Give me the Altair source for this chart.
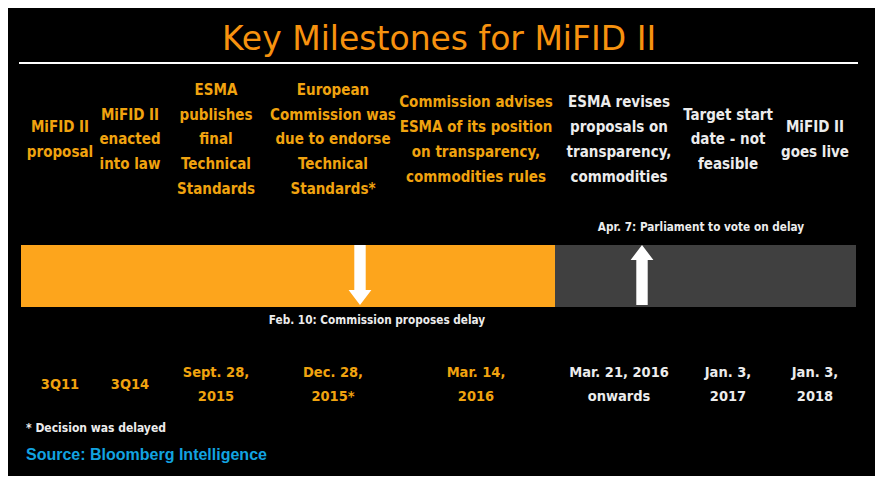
import altair as alt
import pandas as pd

# ---------------- data ----------------
title = "Key Milestones for MiFID II"
milestones = [
    ["MiFID II", "proposal"],
    ["MiFID II", "enacted", "into law"],
    ["ESMA", "publishes", "final", "Technical", "Standards"],
    ["European", "Commission was", "due to endorse", "Technical", "Standards*"],
    ["Commission advises", "ESMA of its position", "on transparency,", "commodities rules"],
    ["ESMA revises", "proposals on", "transparency,", "commodities"],
    ["Target start", "date - not", "feasible"],
    ["MiFID II", "goes live"],
]
dates = [
    ["3Q11"], ["3Q14"], ["Sept. 28,", "2015"], ["Dec. 28,", "2015*"],
    ["Mar. 14,", "2016"], ["Mar. 21, 2016", "onwards"], ["Jan. 3,", "2017"], ["Jan. 3,", "2018"],
]
status = ["past", "past", "past", "past", "past", "future", "future", "future"]
phases = ["past", "future"]
events = ["Feb. 10: Commission proposes delay", "Apr. 7: Parliament to vote on delay"]
event_dir = ["down", "up"]
footnote = "* Decision was delayed"
source = "Source: Bloomberg Intelligence"

# ---------------- layout (page pixels) ----------------
col_x = [60, 130, 216, 333, 476, 619, 728, 815]
top_center, top_lh = 139.5, 24.8
date_center, date_lh = 385, 24
phase_x = [(21, 555), (555, 856)]
bar_y = (245, 307)
arrow_x = [360, 642]
event_pos = [(377, 320), (701, 227)]

ORANGE_TXT = "#F0A30F"
WHITE_TXT = "#ECECEC"
colors = {"past": ORANGE_TXT, "future": WHITE_TXT}
bar_colors = {"past": "#FDA51C", "future": "#404040"}
COND = "DejaVu Sans Condensed, sans-serif"

xs = alt.Scale(domain=[8, 875], nice=False, zero=False)
ys = alt.Scale(domain=[476, 8], nice=False, zero=False)
X = lambda f="x": alt.X(f"{f}:Q", scale=xs, axis=None)
Y = lambda f="y": alt.Y(f"{f}:Q", scale=ys, axis=None)

top_df = pd.DataFrame({
    "x": col_x,
    "y": [top_center - (len(m) - 1) / 2 * top_lh for m in milestones],
    "label": milestones,
    "color": [colors[s] for s in status],
})
date_df = pd.DataFrame({
    "x": col_x,
    "y": [date_center - (len(d) - 1) / 2 * date_lh for d in dates],
    "label": dates,
    "color": [colors[s] for s in status],
})
bar_df = pd.DataFrame({
    "x": [p[0] for p in phase_x], "x2": [p[1] for p in phase_x],
    "y": [bar_y[0]] * 2, "y2": [bar_y[1]] * 2,
    "color": [bar_colors[p] for p in phases],
})
arrow_df = pd.DataFrame({
    "x": arrow_x, "y": [275, 275],
    "angle": [0 if d == "down" else 180 for d in event_dir],
})
event_df = pd.DataFrame({
    "x": [p[0] for p in event_pos], "y": [p[1] for p in event_pos], "label": events,
})

title_layer = alt.Chart(pd.DataFrame({"x": [439], "y": [40], "t": [title]})).mark_text(
    font="DejaVu Sans", fontSize=33, color="#F7920F", baseline="middle", align="center"
).encode(x=X(), y=Y(), text="t:N")

rule_layer = alt.Chart(pd.DataFrame({"x": [19], "x2": [858], "y": [63]})).mark_rule(
    color="white", strokeWidth=2
).encode(x=X(), x2="x2:Q", y=Y())

top_layer = alt.Chart(top_df).mark_text(
    font=COND, fontSize=15, fontWeight="bold", lineHeight=top_lh, baseline="middle", align="center"
).encode(x=X(), y=Y(), text="label", color=alt.Color("color:N", scale=None))

bar_layer = alt.Chart(bar_df).mark_rect().encode(
    x=X(), x2="x2:Q", y=Y(), y2="y2:Q", color=alt.Color("color:N", scale=None)
)

arrow_path = "M-0.19,-1L0.19,-1L0.19,0.5L0.38,0.5L0,1L-0.38,0.5L-0.19,0.5Z"
arrow_layer = alt.Chart(arrow_df).mark_point(
    shape=arrow_path, filled=True, size=3600, color="white", opacity=1, strokeWidth=0
).encode(x=X(), y=Y(), angle=alt.Angle("angle:Q", scale=None))

event_layer = alt.Chart(event_df).mark_text(
    font=COND, fontSize=11.7, fontWeight="bold", color=WHITE_TXT, baseline="middle", align="center"
).encode(x=X(), y=Y(), text="label:N")

date_layer = alt.Chart(date_df).mark_text(
    font=COND, fontSize=14.5, fontWeight="bold", lineHeight=date_lh, baseline="middle", align="center"
).encode(x=X(), y=Y(), text="label", color=alt.Color("color:N", scale=None))

foot_layer = alt.Chart(pd.DataFrame({"x": [26], "y": [428], "t": [footnote]})).mark_text(
    font=COND, fontSize=12, fontWeight="bold", color=WHITE_TXT, baseline="middle", align="left"
).encode(x=X(), y=Y(), text="t:N")

source_layer = alt.Chart(pd.DataFrame({"x": [26], "y": [455], "t": [source]})).mark_text(
    font="Liberation Sans, Arial, sans-serif", fontSize=16, fontWeight="bold", color="#12A3E0",
    baseline="middle", align="left"
).encode(x=X(), y=Y(), text="t:N")

chart = alt.layer(
    title_layer, rule_layer, top_layer, bar_layer, arrow_layer, event_layer,
    date_layer, foot_layer, source_layer,
).properties(
    width=867, height=468, autosize=alt.AutoSizeParams(type="none"), padding=0,
    background="black",
).configure_view(stroke=None)

chart.save("out.html", embed_options={"renderer": "svg", "actions": False})
